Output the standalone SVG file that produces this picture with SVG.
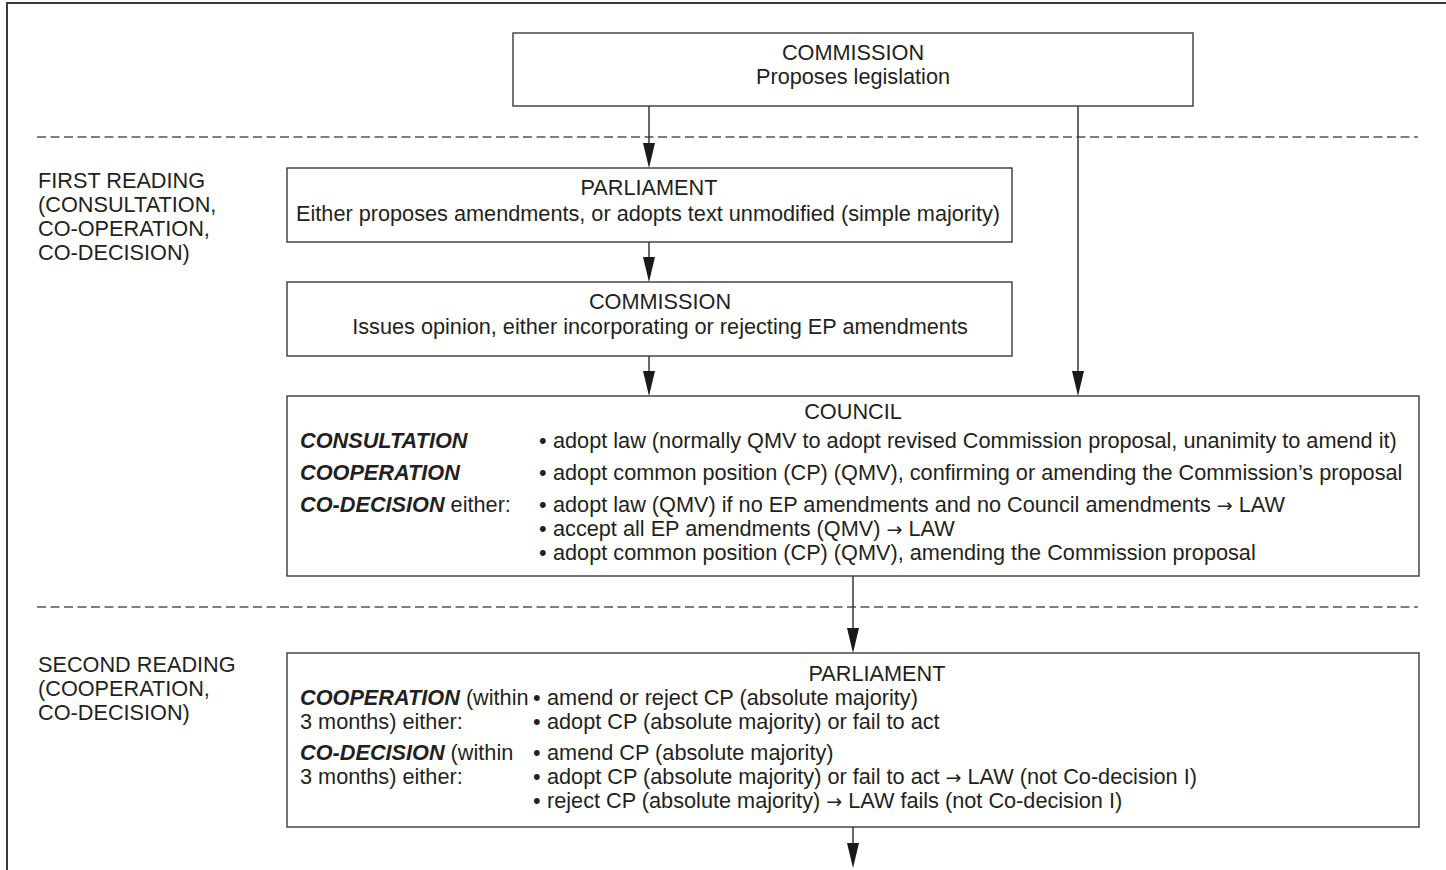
<svg xmlns="http://www.w3.org/2000/svg" width="1446" height="870" viewBox="0 0 1446 870">
  <style>
    text { font-family: "Liberation Sans", Arial, sans-serif; font-size: 21.7px; fill: #231f20; }
    .c { text-anchor: middle; }
    .bi { font-weight: bold; font-style: italic; }
    .ar { font-family: "DejaVu Sans", sans-serif; font-size: 19px; }
    .box { fill: #ffffff; stroke: #3a3a3a; stroke-width: 1.4; }
    .frame { fill: none; stroke: #3a3a3a; stroke-width: 2; }
    .dash { stroke: #555555; stroke-width: 1.4; stroke-dasharray: 9 4.5; fill: none; }
    .conn line { stroke: #2a2a2a; stroke-width: 1.4; }
    .conn polygon { fill: #1a1a1a; }
  </style>

  <rect width="1446" height="870" fill="#ffffff"/>
  <!-- outer frame (open at right and bottom) -->
  <path class="frame" d="M7,875 V3 H1450"/>

  <!-- stage separators -->
  <line class="dash" x1="37" y1="137" x2="1418" y2="137"/>
  <line class="dash" x1="37" y1="607" x2="1418" y2="607"/>

  <!-- stage labels -->
  <g id="label-first">
    <text x="38" y="188">FIRST READING</text>
    <text x="38" y="212">(CONSULTATION,</text>
    <text x="38" y="236">CO-OPERATION,</text>
    <text x="38" y="260">CO-DECISION)</text>
  </g>
  <g id="label-second">
    <text x="38" y="672">SECOND READING</text>
    <text x="38" y="696">(COOPERATION,</text>
    <text x="38" y="720">CO-DECISION)</text>
  </g>

  <!-- connectors -->
  <g id="connectors" class="conn">
    <line x1="649" y1="106" x2="649" y2="150"/>
    <polygon points="643,143 655,143 649,168"/>
    <line x1="649" y1="242" x2="649" y2="264"/>
    <polygon points="643,257 655,257 649,282"/>
    <line x1="649" y1="356" x2="649" y2="378"/>
    <polygon points="643,371 655,371 649,396"/>
    <line x1="1078" y1="106" x2="1078" y2="378"/>
    <polygon points="1072,371 1084,371 1078,396"/>
    <line x1="853" y1="576" x2="853" y2="635"/>
    <polygon points="847,628 859,628 853,653"/>
    <line x1="853" y1="827" x2="853" y2="850"/>
    <polygon points="847,843 859,843 853,868"/>
  </g>

  <g id="commission-propose">
    <rect class="box" x="513" y="33" width="680" height="73"/>
    <text class="c" x="853" y="60">COMMISSION</text>
    <text class="c" x="853" y="84">Proposes legislation</text>
  </g>

  <g id="parliament-first">
    <rect class="box" x="287" y="168" width="725" height="74"/>
    <text class="c" x="649" y="195">PARLIAMENT</text>
    <text class="c" x="648" y="221">Either proposes amendments, or adopts text unmodified (simple majority)</text>
  </g>

  <g id="commission-opinion">
    <rect class="box" x="287" y="282" width="725" height="74"/>
    <text class="c" x="660" y="309">COMMISSION</text>
    <text class="c" x="660" y="334">Issues opinion, either incorporating or rejecting EP amendments</text>
  </g>

  <g id="council">
    <rect class="box" x="287" y="396" width="1132" height="180"/>
    <text class="c" x="853" y="419">COUNCIL</text>
    <text class="bi" x="300" y="448">CONSULTATION</text>
    <text class="bi" x="300" y="480">COOPERATION</text>
    <text x="300" y="512"><tspan class="bi">CO-DECISION</tspan> either:</text>
    <text x="539" y="448">•</text>
    <text x="539" y="480">•</text>
    <text x="539" y="512">•</text>
    <text x="539" y="536">•</text>
    <text x="539" y="560">•</text>
    <text x="553" y="448">adopt law (normally QMV to adopt revised Commission proposal, unanimity to amend it)</text>
    <text x="553" y="480">adopt common position (CP) (QMV), confirming or amending the Commission’s proposal</text>
    <text x="553" y="512">adopt law (QMV) if no EP amendments and no Council amendments <tspan class="ar">→</tspan> LAW</text>
    <text x="553" y="536">accept all EP amendments (QMV) <tspan class="ar">→</tspan> LAW</text>
    <text x="553" y="560">adopt common position (CP) (QMV), amending the Commission proposal</text>
  </g>

  <g id="parliament-second">
    <rect class="box" x="287" y="653" width="1132" height="174"/>
    <text class="c" x="877" y="681">PARLIAMENT</text>
    <text x="300" y="705"><tspan class="bi">COOPERATION</tspan> (within</text>
    <text x="300" y="729">3 months) either:</text>
    <text x="300" y="760"><tspan class="bi">CO-DECISION</tspan> (within</text>
    <text x="300" y="784">3 months) either:</text>
    <text x="533" y="705">•</text>
    <text x="533" y="729">•</text>
    <text x="533" y="760">•</text>
    <text x="533" y="784">•</text>
    <text x="533" y="808">•</text>
    <text x="547" y="705">amend or reject CP (absolute majority)</text>
    <text x="547" y="729">adopt CP (absolute majority) or fail to act</text>
    <text x="547" y="760">amend CP (absolute majority)</text>
    <text x="547" y="784">adopt CP (absolute majority) or fail to act <tspan class="ar">→</tspan> LAW (not Co-decision I)</text>
    <text x="547" y="808">reject CP (absolute majority) <tspan class="ar">→</tspan> LAW fails (not Co-decision I)</text>
  </g>
</svg>
